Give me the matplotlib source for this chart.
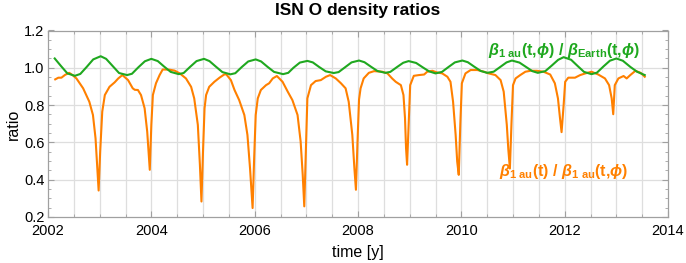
import matplotlib
matplotlib.use("Agg")
import matplotlib.pyplot as plt
from matplotlib.ticker import MultipleLocator, FormatStrFormatter

plt.rcParams['font.family'] = ['Liberation Sans', 'DejaVu Sans']
plt.rcParams['mathtext.fontset'] = 'custom'
plt.rcParams['mathtext.rm'] = 'Liberation Sans'
plt.rcParams['mathtext.bf'] = 'Liberation Sans:bold'
plt.rcParams['mathtext.it'] = 'Liberation Sans:italic'
plt.rcParams['mathtext.bfit'] = 'Liberation Sans:italic:bold'

# ---- data ----
t_orange = [2002.14, 2002.20, 2002.26, 2002.33, 2002.41, 2002.47, 2002.55, 2002.68, 2002.80, 2002.87,
            2002.92, 2002.955, 2002.98, 2003.01, 2003.05, 2003.10, 2003.19, 2003.29, 2003.36, 2003.44,
            2003.55, 2003.64, 2003.68, 2003.74, 2003.80, 2003.87, 2003.92, 2003.97, 2004.00, 2004.03,
            2004.09, 2004.16, 2004.22, 2004.35, 2004.45, 2004.55, 2004.67, 2004.77, 2004.83, 2004.90,
            2004.94, 2004.97, 2005.00, 2005.03, 2005.06, 2005.12, 2005.22, 2005.32, 2005.41, 2005.45,
            2005.54, 2005.61, 2005.70, 2005.80, 2005.86, 2005.91, 2005.96, 2005.99, 2006.02, 2006.06,
            2006.12, 2006.22, 2006.28, 2006.35, 2006.43, 2006.54, 2006.64, 2006.73, 2006.83, 2006.89,
            2006.93, 2006.96, 2006.99, 2007.02, 2007.09, 2007.18, 2007.28, 2007.38, 2007.46, 2007.57,
            2007.67, 2007.76, 2007.82, 2007.89, 2007.93, 2007.96, 2007.99, 2008.02, 2008.05, 2008.11,
            2008.21, 2008.31, 2008.47, 2008.57, 2008.66, 2008.73, 2008.83, 2008.88, 2008.91, 2008.93,
            2008.95, 2008.98, 2009.01, 2009.08, 2009.18, 2009.28, 2009.34, 2009.44, 2009.53, 2009.63,
            2009.73, 2009.79, 2009.84, 2009.89, 2009.92, 2009.95, 2009.98, 2010.01, 2010.08, 2010.18,
            2010.31, 2010.44, 2010.53, 2010.66, 2010.76, 2010.82, 2010.88, 2010.91, 2010.94, 2010.97,
            2011.00, 2011.05, 2011.14, 2011.24, 2011.34, 2011.46, 2011.59, 2011.72, 2011.81, 2011.87,
            2011.91, 2011.94, 2011.98, 2012.01, 2012.07, 2012.20, 2012.30, 2012.40, 2012.52, 2012.65,
            2012.78, 2012.86, 2012.91, 2012.94, 2012.97, 2013.04, 2013.14, 2013.20, 2013.27, 2013.37,
            2013.47, 2013.55]
ratio_orange = [0.938, 0.947, 0.947, 0.962, 0.973, 0.962, 0.943, 0.890, 0.818, 0.747,
                0.622, 0.462, 0.342, 0.551, 0.765, 0.854, 0.898, 0.922, 0.943, 0.961,
                0.934, 0.890, 0.882, 0.881, 0.854, 0.783, 0.658, 0.453, 0.694, 0.854,
                0.917, 0.961, 0.991, 0.990, 0.985, 0.970, 0.943, 0.898, 0.836, 0.694,
                0.480, 0.283, 0.551, 0.783, 0.854, 0.898, 0.925, 0.947, 0.964, 0.965,
                0.934, 0.881, 0.827, 0.747, 0.640, 0.462, 0.248, 0.515, 0.747, 0.836,
                0.881, 0.907, 0.917, 0.943, 0.956, 0.925, 0.872, 0.827, 0.747, 0.604,
                0.426, 0.257, 0.551, 0.836, 0.907, 0.929, 0.934, 0.952, 0.961, 0.943,
                0.917, 0.890, 0.818, 0.640, 0.462, 0.346, 0.600, 0.830, 0.890, 0.943,
                0.973, 0.982, 0.979, 0.970, 0.943, 0.925, 0.907, 0.854, 0.729, 0.569,
                0.480, 0.694, 0.907, 0.957, 0.961, 0.964, 0.979, 0.984, 0.975, 0.970,
                0.952, 0.925, 0.818, 0.640, 0.497, 0.426, 0.694, 0.917, 0.970, 0.988,
                0.988, 0.979, 0.970, 0.961, 0.934, 0.872, 0.694, 0.560, 0.460, 0.700,
                0.907, 0.943, 0.961, 0.979, 0.984, 0.984, 0.979, 0.964, 0.917, 0.836,
                0.729, 0.655, 0.800, 0.925, 0.947, 0.947, 0.961, 0.970, 0.979, 0.964,
                0.943, 0.907, 0.836, 0.751, 0.907, 0.943, 0.956, 0.943, 0.961, 0.984,
                0.973, 0.952]

t_green = [2002.13, 2002.25, 2002.375, 2002.52, 2002.625, 2002.75, 2002.875, 2003.02, 2003.125, 2003.25,
           2003.375, 2003.53, 2003.625, 2003.75, 2003.875, 2004.0, 2004.125, 2004.25, 2004.375, 2004.53,
           2004.625, 2004.75, 2004.875, 2005.02, 2005.125, 2005.25, 2005.375, 2005.53, 2005.625, 2005.75,
           2005.875, 2006.02, 2006.125, 2006.25, 2006.375, 2006.55, 2006.65, 2006.75, 2006.875, 2007.02,
           2007.125, 2007.25, 2007.375, 2007.53, 2007.625, 2007.75, 2007.875, 2008.02, 2008.125, 2008.25,
           2008.375, 2008.53, 2008.625, 2008.75, 2008.875, 2008.98, 2009.125, 2009.25, 2009.375, 2009.5,
           2009.625, 2009.75, 2009.875, 2010.02, 2010.125, 2010.25, 2010.375, 2010.5, 2010.625, 2010.75,
           2010.875, 2010.98, 2011.125, 2011.25, 2011.375, 2011.48, 2011.625, 2011.75, 2011.875, 2011.98,
           2012.125, 2012.25, 2012.375, 2012.52, 2012.625, 2012.75, 2012.875, 2013.0, 2013.125, 2013.27,
           2013.4, 2013.55]
ratio_green = [1.050, 1.010, 0.970, 0.957, 0.967, 1.005, 1.045, 1.062, 1.048, 1.010,
               0.972, 0.961, 0.968, 1.003, 1.035, 1.048, 1.036, 1.006, 0.978, 0.966,
               0.972, 1.005, 1.036, 1.048, 1.036, 1.006, 0.977, 0.965, 0.971, 1.004,
               1.034, 1.045, 1.034, 1.005, 0.978, 0.966, 0.973, 1.000, 1.028, 1.037,
               1.029, 1.004, 0.981, 0.972, 0.977, 1.003, 1.029, 1.039, 1.030, 1.006,
               0.983, 0.973, 0.978, 1.003, 1.027, 1.036, 1.026, 1.003, 0.981, 0.970,
               0.978, 1.004, 1.029, 1.039, 1.030, 1.006, 0.983, 0.973, 0.979, 1.004,
               1.029, 1.039, 1.028, 1.005, 0.982, 0.973, 0.982, 1.012, 1.043, 1.057,
               1.043, 1.010, 0.978, 0.966, 0.974, 1.007, 1.038, 1.050, 1.038, 1.005,
               0.979, 0.961]

title = "ISN O density ratios"
xlabel = "time [y]"
ylabel = "ratio"
label_green = (r'$\mathbfit{\beta}_{\mathbf{1\ au}}\mathbf{(t{,}}\mathbfit{\phi}\mathbf{)\ /\ }'
               r'\mathbfit{\beta}_{\mathbf{Earth}}\mathbf{(t{,}}\mathbfit{\phi}\mathbf{)}$')
label_orange = (r'$\mathbfit{\beta}_{\mathbf{1\ au}}\mathbf{(t)\ /\ }'
                r'\mathbfit{\beta}_{\mathbf{1\ au}}\mathbf{(t{,}}\mathbfit{\phi}\mathbf{)}$')

ORANGE = '#FF8000'
GREEN = '#1FA81F'

fig = plt.figure(figsize=(6.86, 2.63), dpi=100)
ax = fig.add_axes([48/686, 1-217/263, (668-48)/686, (217-30.5)/263])

ax.plot(t_orange, ratio_orange, color=ORANGE, lw=1.5, zorder=3, solid_joinstyle='round')
ax.plot(t_green, ratio_green, color=GREEN, lw=1.5, zorder=4, solid_joinstyle='round')

ax.set_xlim(2002, 2014)
ax.set_ylim(0.2, 1.2)
ax.xaxis.set_major_locator(MultipleLocator(2))
ax.xaxis.set_minor_locator(MultipleLocator(0.5))
ax.yaxis.set_major_locator(MultipleLocator(0.2))
ax.yaxis.set_minor_locator(MultipleLocator(0.05))
ax.yaxis.set_major_formatter(FormatStrFormatter('%.1f'))

for x in [2002 + 0.5*i for i in range(1, 24)]:
    ax.axvline(x, color='#dedede', lw=0.9, zorder=1)
for y in [0.4, 0.6, 0.8, 1.0]:
    ax.axhline(y, color='#dedede', lw=0.9, zorder=1)

for s in ax.spines.values():
    s.set_color('#a0a0a0')
    s.set_linewidth(0.9)
ax.tick_params(which='both', direction='in', top=True, right=True, color='#a0a0a0',
               labelsize=10.5, labelcolor='black')
ax.tick_params(axis='x', pad=5)
ax.tick_params(axis='y', pad=2.5)
ax.tick_params(which='major', length=4.5, width=0.8)
ax.tick_params(which='minor', length=2.5, width=0.6)

ax.text(2011.99, 1.095, label_green, color=GREEN, fontsize=11.5, ha='center', va='center', zorder=5)
ax.text(2011.98, 0.442, label_orange, color=ORANGE, fontsize=11.5, ha='center', va='center', zorder=5)

fig.text(358/686, 1-11/263, title, ha='center', va='center', fontsize=12.5, fontweight='bold')
fig.text(358/686, 1-252/263, xlabel, ha='center', va='center', fontsize=11.5)
fig.text(13/686, 1-124/263, ylabel, ha='center', va='center', rotation=90, fontsize=11.5)

fig.savefig('out.png', dpi=100)
